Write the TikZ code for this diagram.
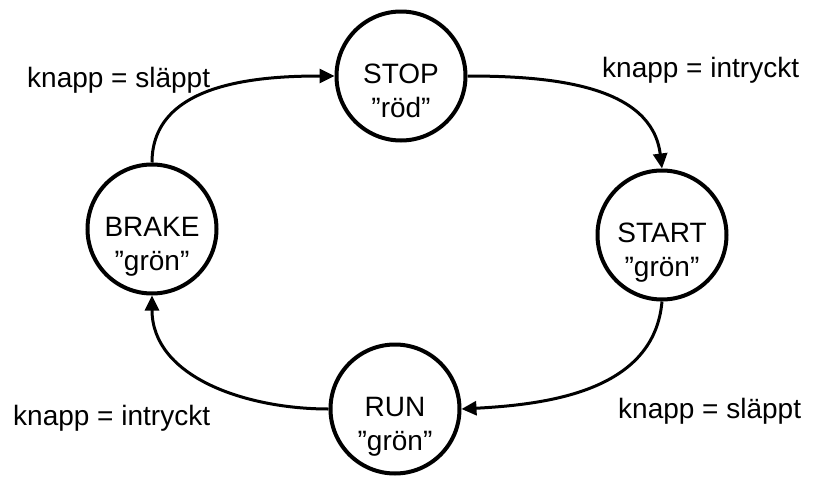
\documentclass[tikz,border=0pt]{standalone}
\usepackage{fontspec}
\setmainfont{Liberation Sans}
\usetikzlibrary{arrows.meta}
\begin{document}
\begin{tikzpicture}[x=1pt,y=-1pt,
  state/.style={circle,draw,line width=4pt,minimum size=129pt,inner sep=0pt},
  txt/.style={font=\fontsize{28}{34}\selectfont,inner sep=0pt,anchor=base},
  lbl/.style={font=\fontsize{28}{34}\selectfont,inner sep=0pt,anchor=base west},
  conn/.style={line width=3pt,-{Triangle[length=15pt,width=14pt]}}]
\useasboundingbox (0,0) rectangle (815,477);
\node[state] (stop) at (401,76) {};
\node[state] (start) at (662,235) {};
\node[state] (run) at (395,409) {};
\node[state] (brake) at (152,229) {};
\node[txt] (stop1) at (401,83) {STOP};
\node[txt] (stop2) at (401,117) {”röd”};
\node[txt] (start1) at (662,242) {START};
\node[txt] (start2) at (662,276) {”grön”};
\node[txt] (run1) at (395,416) {RUN};
\node[txt] (run2) at (395,450) {”grön”};
\node[txt] (brake1) at (152,236) {BRAKE};
\node[txt] (brake2) at (152,270) {”grön”};
\node[lbl] (l1) at (27,87) {knapp = släppt};
\node[lbl] (l2) at (602,77) {knapp = intryckt};
\node[lbl] (l3) at (618,418) {knapp = släppt};
\node[lbl] (l4) at (13,425) {knapp = intryckt};
\draw[conn] (stop.east) to[out=0,in=97] (start.north);
\draw[conn] (start.south) to[out=-95,in=3] (run.east);
\draw[conn] (run.west) to[out=180,in=-90] (brake.south);
\draw[conn] (brake.north) to[out=90,in=180] (stop.west);
\end{tikzpicture}
\end{document}
